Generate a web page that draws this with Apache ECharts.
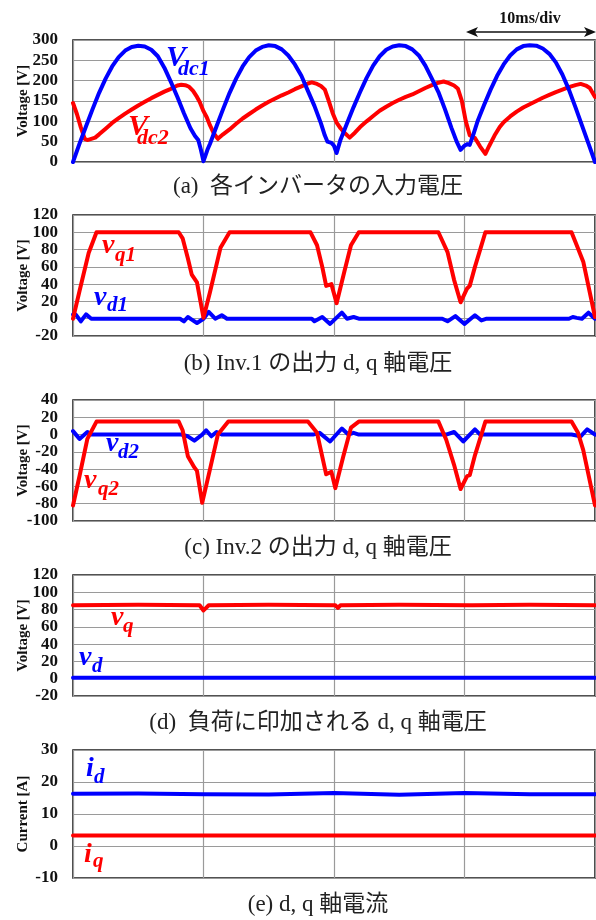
<!DOCTYPE html>
<html><head><meta charset="utf-8">
<script src="https://cdn.jsdelivr.net/npm/echarts@6/dist/echarts.min.js"></script>
<style>html,body{margin:0;padding:0;background:#fff}#c{width:596px;height:920px}</style>
</head><body><div id="c"></div>
<script>
// ---- data (time in ms, values in V or A) ----
const xTicks = [0, 10, 20, 30, 40];
const yTicksA = [0, 50, 100, 150, 200, 250, 300];
const yTicksB = [-20, 0, 20, 40, 60, 80, 100, 120];
const yTicksC = [-100, -80, -60, -40, -20, 0, 20, 40];
const yTicksD = [-20, 0, 20, 40, 60, 80, 100, 120];
const yTicksE = [-10, 0, 10, 20, 30];

const vdc1 = [[0,0],[0.5,45],[1,88],[1.5,130],[2,170],[2.5,205],[3,235],[3.5,258],[4,274],[4.5,283],[5,286],[5.5,284],[6,276],[6.5,260],[7,232],[7.5,197],[8,160],[8.5,120],[9,83],[9.35,64],[9.6,54],[9.8,30],[10,2],
[10.3,30],[10.5,45],[11,88],[11.5,130],[12,170],[12.5,205],[13,235],[13.5,258],[14,274],[14.5,283],[15,287],[15.5,285],[16,277],[16.5,262],[17,240],[17.5,212],[18,175],[18.5,138],[19,95],[19.3,65],[19.5,50],[19.8,47],[20,40],[20.2,22],
[20.5,55],[21,95],[21.5,135],[22,172],[22.5,207],[23,237],[23.5,260],[24,276],[24.5,284],[25,287],[25.5,285],[26,277],[26.5,262],[27,237],[27.5,205],[28,172],[28.5,130],[29,84],[29.4,50],[29.7,30],[30,40],[30.2,44],[30.4,42],
[30.7,70],[31,100],[31.5,140],[32,178],[32.5,212],[33,240],[33.5,262],[34,277],[34.5,285],[35,287],[35.5,286],[36,279],[36.5,266],[37,245],[37.5,215],[38,178],[38.5,135],[39,90],[39.5,45],[40,0]];

const vdc2 = [[0,145],[0.3,118],[0.6,85],[0.9,57],[1.1,54],[1.4,57],[1.7,60],[2,68],[2.5,82],[3,96],[3.5,108],[4,119],[4.5,129],[5,139],[5.5,148],[6,157],[6.5,165],[7,173],[7.5,180],[8,188],[8.3,190],[8.6,189],[8.9,185],[9.2,175],[9.5,160],[9.7,148],[10,125],[10.25,110],[10.5,90],[10.8,70],[11.1,57],
[11.5,68],[12,80],[12.5,94],[13,107],[13.5,118],[14,129],[14.5,139],[15,148],[15.5,156],[16,164],[16.5,171],[17,179],[17.5,186],[18,193],[18.3,196],[18.7,192],[19,187],[19.3,178],[19.6,150],[19.9,120],[20.2,97],[20.5,83],[20.8,72],[21.2,60],
[21.6,72],[22,86],[22.5,100],[23,113],[23.5,126],[24,136],[24.5,145],[25,153],[25.5,160],[26,166],[26.5,174],[27,182],[27.5,189],[28,195],[28.4,198],[28.8,194],[29.2,188],[29.5,180],[29.8,150],[30.1,100],[30.4,66],[30.8,59],[31.2,38],[31.6,20],
[31.9,40],[32.3,65],[32.7,86],[33,98],[33.5,112],[34,124],[34.5,134],[35,142],[35.5,150],[36,158],[36.5,165],[37,172],[37.5,178],[38,184],[38.5,189],[38.9,192],[39.3,188],[39.6,182],[40,160]];

const vq1 = [[0,0],[0.5,32],[1.2,76],[1.8,100],[8.1,100],[8.4,93],[8.8,70],[9.1,51],[9.5,42],[10.0,1],[10.5,31],[11.3,82],[12.0,100],[18.2,100],[18.7,85],[19.1,60],[19.4,38],[19.8,40],[20.2,18],[20.8,55],[21.3,85],[21.9,100],[28.0,100],[28.7,77],[29.2,45],[29.7,19],[30.2,35],[30.4,38],[30.8,60],[31.2,80],[31.6,100],[38.2,100],[38.6,85],[39.1,66],[40,2]];
const vd1 = [[0,5],[0.2,5],[0.6,-3],[1.0,5],[1.4,0],[8.2,0],[8.5,-3],[8.8,2],[9.1,-1],[9.5,-5],[10.0,0],[10.4,8],[10.9,0],[11.4,4],[11.8,0],[18.3,0],[18.5,-3],[19.1,2],[19.7,-6],[20.6,7],[21.0,0],[21.5,2],[21.9,0],[28.3,0],[28.7,-3],[29.3,3],[30.0,-6],[30.8,4],[31.3,-2],[31.7,0],[38.0,0],[38.3,2],[38.6,1],[39.0,0],[39.5,7],[40,0]];

const vq2 = [[0,-82],[0.5,-48],[1.1,-5],[1.8,15],[8.1,15],[8.4,5],[8.8,-25],[9.3,-38],[9.5,-42],[9.9,-79],[10.5,-40],[11.1,0],[11.9,15],[18.0,15],[18.7,2],[19.4,-46],[19.8,-43],[20.1,-62],[20.7,-26],[21.3,8],[21.9,15],[28.0,15],[28.6,-6],[29.2,-35],[29.7,-63],[30.2,-48],[30.4,-47],[30.8,-24],[31.6,15],[38.2,15],[38.7,2],[39.1,-18],[40,-82]];
const vd2 = [[0,4],[0.5,-5],[1.1,3],[1.4,0],[8.3,0],[8.8,-2],[9.3,-7],[9.9,0],[10.2,5],[10.6,-2],[11.0,3],[11.4,0],[18.4,0],[18.9,2],[19.7,-8],[20.6,7],[21.1,0],[21.5,2],[21.9,0],[28.6,0],[29.2,3],[29.9,-8],[30.8,6],[31.2,0],[38.2,0],[38.9,-2],[39.4,6],[40,0]];

const vq = [[0,85],[5,85.5],[9.7,85],[10.0,79],[10.2,82],[10.4,85],[15,85.5],[20.1,85],[20.3,82],[20.5,85],[25,85.5],[30.4,85],[30.5,87],[30.6,85],[35,85.5],[40,85]];
const vd = [[0,1],[10,1],[10.05,0.2],[10.2,1],[20.3,1],[20.35,0.5],[20.5,1],[40,1]];

const id = [[0,16.3],[5,16.4],[10,16.2],[15,16.1],[20,16.6],[25,16.0],[30,16.6],[35,16.2],[40,16.2]];
const iq = [[0,3.3],[40,3.3]];

const captions = ['(a)  各インバータの入力電圧','(b) Inv.1 の出力 d, q 軸電圧','(c) Inv.2 の出力 d, q 軸電圧','(d)  負荷に印加される d, q 軸電圧','(e) d, q 軸電流'];

// ---- layout ----
const SERIF = '"Liberation Serif", "Times New Roman", serif';
const BLUE = '#0000ff', RED = '#ff0000';
const panels = [
  {top:40, height:122, ticks:yTicksA, name:'Voltage [V]', series:[[vdc2,RED],[vdc1,BLUE]]},
  {top:215, height:121, ticks:yTicksB, name:'Voltage [V]', series:[[vd1,BLUE],[vq1,RED]]},
  {top:400, height:121, ticks:yTicksC, name:'Voltage [V]', series:[[vd2,BLUE],[vq2,RED]]},
  {top:575, height:121, ticks:yTicksD, name:'Voltage [V]', series:[[vd,BLUE],[vq,RED]]},
  {top:750, height:128, ticks:yTicksE, name:'Current [A]', series:[[iq,RED],[id,BLUE]]}
];
const capY = [187, 364, 548, 723, 905];

const grids = [], xAxes = [], yAxes = [], series = [];
panels.forEach((p, i) => {
  grids.push({left:73, right:1, top:p.top, height:p.height, show:true, borderColor:'#1a1a1a', borderWidth:1.6, backgroundColor:'transparent', containLabel:false, outerBoundsMode:'none'});
  xAxes.push({type:'value', gridIndex:i, min:xTicks[0], max:xTicks[xTicks.length-1], interval:xTicks[1]-xTicks[0],
    axisLine:{show:false}, axisTick:{show:false}, axisLabel:{show:false},
    splitLine:{show:true, lineStyle:{color:'#9a9a9a', width:1.2}}});
  yAxes.push({type:'value', gridIndex:i, min:p.ticks[0], max:p.ticks[p.ticks.length-1], interval:p.ticks[1]-p.ticks[0],
    name:p.name, nameLocation:'middle', nameRotate:90, nameGap:42, nameMoveOverlap:false,
    nameTextStyle:{fontFamily:SERIF, fontWeight:'bold', fontSize:15, color:'#111'},
    axisLine:{show:false}, axisTick:{show:false},
    axisLabel:{fontFamily:SERIF, fontWeight:'bold', fontSize:17, color:'#111', margin:15},
    splitLine:{show:true, lineStyle:{color:'#9a9a9a', width:1.2}}});
  p.series.forEach(([d, c]) => series.push({type:'line', xAxisIndex:i, yAxisIndex:i, data:d, showSymbol:false, symbol:'none',
    lineStyle:{color:c, width:4, cap:'round', join:'round'}, animation:false, z:3}));
});

function lab(x, y, t, c, s) {
  return {type:'text', x:x, y:y, z:100, style:{text:t, fill:c, fontFamily:SERIF, fontStyle:'italic', fontWeight:'bold', fontSize:s, align:'left', verticalAlign:'middle'}};
}
const graphics = [
  lab(166, 58, 'V', BLUE, 30), lab(178, 69, 'dc1', BLUE, 22),
  lab(128, 127, 'V', RED, 30), lab(137, 138, 'dc2', RED, 22),
  lab(102, 246, 'v', RED, 28), lab(115, 256, 'q1', RED, 21),
  lab(94, 298, 'v', BLUE, 28), lab(107, 306, 'd1', BLUE, 21),
  lab(106, 444, 'v', BLUE, 28), lab(118, 453, 'd2', BLUE, 21),
  lab(84, 481, 'v', RED, 28), lab(98, 490, 'q2', RED, 21),
  lab(111, 618, 'v', RED, 28), lab(123, 627, 'q', RED, 21),
  lab(79, 658, 'v', BLUE, 28), lab(92, 667, 'd', BLUE, 21),
  lab(86, 769, 'i', BLUE, 28), lab(94, 778, 'd', BLUE, 21),
  lab(84, 855, 'i', RED, 28), lab(93, 862, 'q', RED, 21),
  // 10ms/div annotation
  {type:'text', x:530, y:19, z:100, style:{text:'10ms/div', fill:'#111', fontFamily:SERIF, fontWeight:'bold', fontSize:16, align:'center', verticalAlign:'middle'}},
  {type:'line', z:100, shape:{x1:470, y1:32, x2:592, y2:32}, style:{stroke:'#111', lineWidth:1.5}},
  {type:'polygon', z:100, shape:{points:[[466,32],[478,27],[475,32],[478,37]]}, style:{fill:'#111'}},
  {type:'polygon', z:100, shape:{points:[[596,32],[584,27],[587,32],[584,37]]}, style:{fill:'#111'}}
];
captions.forEach((t, i) => graphics.push({type:'text', x:318, y:capY[i], z:100,
  style:{text:t, fill:'#222', fontFamily:'"Liberation Serif", "Noto Sans CJK JP", serif', fontSize:23, align:'center', verticalAlign:'middle'}}));

const chart = echarts.init(document.getElementById('c'), null, {renderer:'canvas'});
chart.setOption({animation:false, grid:grids, xAxis:xAxes, yAxis:yAxes, series:series, graphic:graphics});
</script></body></html>
